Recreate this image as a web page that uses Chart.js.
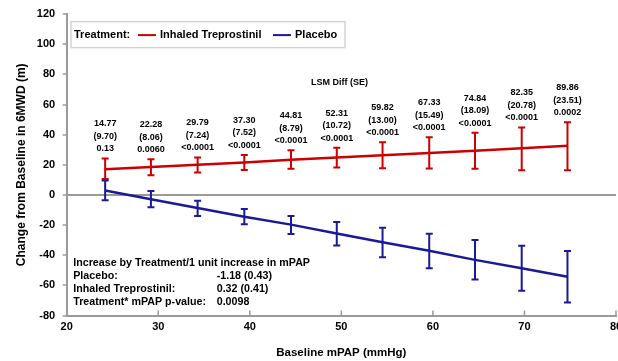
<!DOCTYPE html>
<html><head><meta charset="utf-8">
<script src="https://cdn.jsdelivr.net/npm/chart.js@4/dist/chart.umd.min.js"></script>
<style>html,body{margin:0;padding:0;background:#fff}#wrap{width:618px;height:361px}</style>
</head><body><div id="wrap"><canvas id="c" width="618" height="361"></canvas></div>
<script>
// ---- data ----
const mpap = [24.2, 29.2, 34.3, 39.4, 44.5, 49.5, 54.5, 59.6, 64.6, 69.7, 74.7];
const treprostinil     = [17.0, 18.5, 20.0, 21.6, 23.3, 24.9, 26.3, 27.8, 29.4, 31.0, 32.6];
const treprostinilLow  = [10.6, 13.0, 14.9, 16.5, 17.3, 18.2, 17.7, 17.5, 17.3, 16.4, 16.4];
const treprostinilHigh = [24.2, 23.6, 24.9, 26.5, 29.6, 31.3, 35.0, 38.3, 41.3, 44.8, 48.2];
const placebo     = [3.0, -2.9, -8.7, -14.5, -19.7, -25.6, -31.4, -37.1, -43.1, -48.7, -54.3];
const placeboLow  = [-3.5, -8.2, -14.0, -19.4, -26.0, -33.5, -41.3, -48.7, -56.1, -63.6, -71.4];
const placeboHigh = [9.5, 2.6, -3.9, -9.3, -13.9, -18.0, -21.7, -25.7, -29.9, -33.7, -37.2];
const lsmDiff = ['14.77','22.28','29.79','37.30','44.81','52.31','59.82','67.33','74.84','82.35','89.86'];
const lsmSE   = ['9.70','8.06','7.24','7.52','8.79','10.72','13.00','15.49','18.09','20.78','23.51'];
const pValues = ['0.13','0.0060','<0.0001','<0.0001','<0.0001','<0.0001','<0.0001','<0.0001','<0.0001','<0.0001','0.0002'];
const seriesNames = ['Inhaled Treprostinil', 'Placebo'];
const statsRows = [
  ['Increase by Treatment/1 unit increase in mPAP', ''],
  ['Placebo:', '-1.18 (0.43)'],
  ['Inhaled Treprostinil:', '0.32 (0.41)'],
  ['Treatment* mPAP p-value:', '0.0098']
];
const xTicks = [20, 30, 40, 50, 60, 70, 80];

const RED = '#cc0000', BLUE = '#1a1a96', AXIS = '#9a9a9a';
const FONT = '"Liberation Sans", Arial, Helvetica, sans-serif';
Chart.defaults.font.family = FONT;
Chart.defaults.color = '#000';

const overlay = {
  id: 'overlay',
  afterDatasetsDraw(chart) {
    const {ctx, chartArea: ca, scales: {x, y}} = chart;
    ctx.save();
    // error bars
    [[treprostinilLow, treprostinilHigh, RED], [placeboLow, placeboHigh, BLUE]].forEach(([lo, hi, col]) => {
      ctx.strokeStyle = col; ctx.lineWidth = 2;
      mpap.forEach((m, i) => {
        const px = x.getPixelForValue(m), y1 = y.getPixelForValue(hi[i]), y2 = y.getPixelForValue(lo[i]);
        ctx.beginPath();
        ctx.moveTo(px, y1); ctx.lineTo(px, y2);
        ctx.moveTo(px - 3.5, y1); ctx.lineTo(px + 3.5, y1);
        ctx.moveTo(px - 3.5, y2); ctx.lineTo(px + 3.5, y2);
        ctx.stroke();
      });
    });
    // inward x ticks
    ctx.strokeStyle = AXIS; ctx.lineWidth = 1.5;
    xTicks.forEach(v => {
      const px = x.getPixelForValue(v);
      ctx.beginPath(); ctx.moveTo(px, ca.bottom); ctx.lineTo(px, ca.bottom - 5); ctx.stroke();
    });
    // LSM labels
    ctx.fillStyle = '#000';
    ctx.font = 'bold 9px ' + FONT; ctx.textAlign = 'center'; ctx.textBaseline = 'middle';
    mpap.forEach((m, i) => {
      const px = x.getPixelForValue(m), top = y.getPixelForValue(treprostinilHigh[i]);
      const lines = [lsmDiff[i], '(' + lsmSE[i] + ')', pValues[i]];
      lines.forEach((t, k) => ctx.fillText(t, px, top - 9.5 - (2 - k) * 12.5));
    });
    ctx.fillText('LSM Diff (SE)', x.getPixelForValue(49.8), y.getPixelForValue(74.8));
    // stats block
    ctx.font = 'bold 10.7px ' + FONT; ctx.textAlign = 'left';
    statsRows.forEach((r, k) => {
      const yy = ca.bottom - 52.2 + k * 13;
      ctx.fillText(r[0], ca.left + 6.5, yy);
      if (r[1]) ctx.fillText(r[1], ca.left + 150, yy);
    });
    // legend box
    const lx = ca.left + 4.3, ly = ca.top + 7.5, lw = 274, lh = 26;
    ctx.fillStyle = '#fff'; ctx.fillRect(lx, ly, lw, lh);
    ctx.strokeStyle = '#d4d4d4'; ctx.lineWidth = 1.5; ctx.strokeRect(lx, ly, lw, lh);
    const cy = ly + 13.5;
    ctx.fillStyle = '#000'; ctx.font = 'bold 11px ' + FONT;
    ctx.fillText('Treatment:', lx + 3, cy);
    ctx.lineWidth = 2;
    ctx.strokeStyle = RED; ctx.beginPath(); ctx.moveTo(lx + 67, cy); ctx.lineTo(lx + 85, cy); ctx.stroke();
    ctx.fillText(seriesNames[0], lx + 89, cy);
    ctx.strokeStyle = BLUE; ctx.beginPath(); ctx.moveTo(lx + 202, cy); ctx.lineTo(lx + 220, cy); ctx.stroke();
    ctx.fillText(seriesNames[1], lx + 224, cy);
    ctx.restore();
  }
};

new Chart(document.getElementById('c'), {
  type: 'scatter',
  data: {
    datasets: [
      { label: seriesNames[1], data: mpap.map((m, i) => ({x: m, y: placebo[i]})), showLine: true,
        borderColor: BLUE, backgroundColor: BLUE, borderWidth: 2.5, pointRadius: 0, tension: 0 },
      { label: seriesNames[0], data: mpap.map((m, i) => ({x: m, y: treprostinil[i]})), showLine: true,
        borderColor: RED, backgroundColor: RED, borderWidth: 2.5, pointRadius: 0, tension: 0 }
    ]
  },
  options: {
    responsive: false, animation: false, devicePixelRatio: 1,
    layout: { padding: { left: 0, right: 2, top: 7.5, bottom: 0 } },
    plugins: { legend: { display: false }, tooltip: { enabled: false } },
    scales: {
      x: {
        type: 'linear', min: 20, max: 80,
        afterBuildTicks: s => { s.ticks = xTicks.map(v => ({value: v})); },
        afterFit: s => { s.height = 45.5; s.paddingLeft = 0; s.paddingRight = 0; },
        ticks: { padding: 5, font: { size: 11, weight: 'bold' }, color: '#000', maxRotation: 0 },
        grid: { display: true, drawOnChartArea: false, drawTicks: false },
        border: { display: true, color: AXIS, width: 2 },
        title: { display: true, text: 'Baseline mPAP (mmHg)', font: { size: 11.5, weight: 'bold' }, color: '#000', padding: { top: 0, bottom: 1.5 } }
      },
      y: {
        min: -80, max: 120,
        ticks: { stepSize: 20, padding: 7.5, font: { size: 11, weight: 'bold' }, color: '#000' },
        afterFit: s => { s.width = 66.7; },
        grid: {
          drawOnChartArea: true, drawTicks: true, tickLength: 4, tickColor: AXIS, tickWidth: 1.5,
          color: c => (c.tick && c.tick.value === 0) ? AXIS : 'rgba(0,0,0,0)', lineWidth: 2
        },
        border: { display: true, color: AXIS, width: 2 },
        title: { display: true, text: 'Change from Baseline in 6MWD (m)', font: { size: 12, weight: 'bold' }, color: '#000', padding: { top: 14, bottom: 0 } }
      }
    }
  },
  plugins: [overlay]
});
</script>
</body></html>
